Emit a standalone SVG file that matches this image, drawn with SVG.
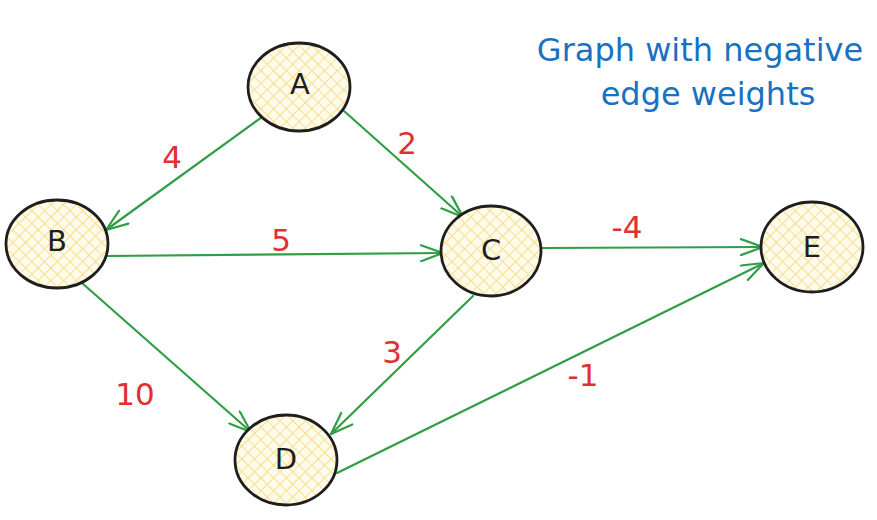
<svg xmlns="http://www.w3.org/2000/svg" width="877" height="520" viewBox="0 0 877 520">
<defs>
<pattern id="hatch" width="9" height="9" patternUnits="userSpaceOnUse" patternTransform="rotate(45)">
<rect width="9" height="9" fill="#fffbea"/>
<line x1="0" y1="0" x2="0" y2="9" stroke="#f6da80" stroke-width="1.7"/>
<line x1="0" y1="0" x2="9" y2="0" stroke="#f6da80" stroke-width="1.7"/>
</pattern>
<marker id="arr" viewBox="0 0 24 18" refX="23" refY="9" markerWidth="24" markerHeight="18" markerUnits="userSpaceOnUse" orient="auto">
<path d="M1,1 L23,9 L1,17" fill="none" stroke="#2f9e44" stroke-width="2.2" stroke-linecap="round" stroke-linejoin="round"/>
</marker>
</defs>
<style>
.node ellipse{fill:url(#hatch);stroke:#1e1e1e;stroke-width:2.8}
.node text{font-family:"DejaVu Sans",sans-serif;font-size:29px;fill:#1e1e1e;text-anchor:middle;dominant-baseline:central}
.edge{fill:none;stroke:#2f9e44;stroke-width:2.2;stroke-linecap:round;marker-end:url(#arr)}
.w{font-family:"DejaVu Sans",sans-serif;font-size:31px;fill:#e03131;text-anchor:middle;dominant-baseline:central}
.title{font-family:"DejaVu Sans",sans-serif;font-size:32px;fill:#1971c2;text-anchor:middle}
</style>
<g id="connectors">
<path class="edge" d="M262,117 L106,230"/>
<path class="edge" d="M344,111 L463,217"/>
<path class="edge" d="M107,256 L443,253"/>
<path class="edge" d="M542,248 L763,247"/>
<path class="edge" d="M82,283 L251,432"/>
<path class="edge" d="M473,296 L331,434"/>
<path class="edge" d="M337,473 L764,263"/>
</g>
<g id="weights">
<text class="w" x="172" y="157">4</text>
<text class="w" x="407" y="143">2</text>
<text class="w" x="281" y="240">5</text>
<text class="w" x="627" y="227">-4</text>
<text class="w" x="392" y="352">3</text>
<text class="w" x="135" y="394">10</text>
<text class="w" x="583" y="375">-1</text>
</g>
<g id="node-A" class="node"><ellipse cx="299" cy="87" rx="51" ry="44"/><text x="300" y="84">A</text></g>
<g id="node-B" class="node"><ellipse cx="57" cy="244" rx="51" ry="44"/><text x="57" y="241">B</text></g>
<g id="node-C" class="node"><ellipse cx="491" cy="251" rx="50" ry="45"/><text x="491" y="250">C</text></g>
<g id="node-D" class="node"><ellipse cx="286" cy="460" rx="51" ry="45"/><text x="286" y="459">D</text></g>
<g id="node-E" class="node"><ellipse cx="812" cy="247" rx="51" ry="45"/><text x="812" y="247">E</text></g>
<g id="title">
<text class="title" x="700" y="61">Graph with negative</text>
<text class="title" x="708" y="105">edge weights</text>
</g>
</svg>
